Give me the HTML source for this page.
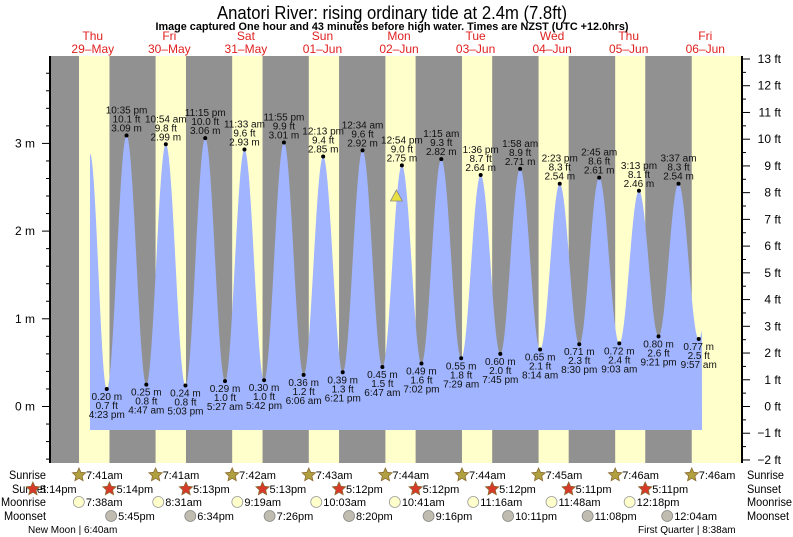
<!DOCTYPE html>
<html><head><meta charset="utf-8"><style>
html,body{margin:0;padding:0;background:#fff;}
svg{display:block;font-family:"Liberation Sans",sans-serif;}
</style></head><body>
<svg id="s" width="793" height="537" xmlns="http://www.w3.org/2000/svg">
<text x="392" y="19" font-size="18" text-anchor="middle" textLength="350" lengthAdjust="spacingAndGlyphs">Anatori River: rising  ordinary tide at 2.4m (7.8ft)</text>
<text x="392" y="30" font-size="11" font-weight="bold" text-anchor="middle" textLength="473" lengthAdjust="spacingAndGlyphs">Image captured One hour and 43 minutes before high water. Times are NZST (UTC +12.0hrs)</text>
<g id="bg"></g><g id="fg"></g>
</svg>
<script>
var NS="http://www.w3.org/2000/svg",bg=document.getElementById('bg'),fg=document.getElementById('fg');
function el(p,t,a,txt){var e=document.createElementNS(NS,t);for(var k in a)e.setAttribute(k,a[k]);if(txt!=null)e.textContent=txt;p.appendChild(e);return e;}
var X0=54.5,PH=3.19;function tx(t){return X0+t*PH;}function my(m){return 406.5-m*87.7;}
function hm(s){var m=s.match(/(\d+):(\d+)\s*(am|pm)/);var h=+m[1]%12;if(m[3]=='pm')h+=12;return h+ +m[2]/60;}
var TOP=56,BOT=463,L=50,R=742;
var sr=["7:41am","7:41am","7:42am","7:43am","7:44am","7:44am","7:45am","7:46am","7:46am"];
var ss=["5:14pm","5:14pm","5:13pm","5:13pm","5:12pm","5:12pm","5:12pm","5:11pm","5:11pm"];
el(bg,'rect',{x:L,y:TOP,width:R-L,height:BOT-TOP,fill:'#919191'});
for(var d=0;d<9;d++){var a=tx(d*24+hm(sr[d])),b=(d<8)?tx(d*24+hm(ss[d+1])):R;el(bg,'rect',{x:a,y:TOP,width:Math.min(b,R)-a,height:BOT-TOP,fill:'#ffffcc'});}
var days=[["Thu","29\u2013May"],["Fri","30\u2013May"],["Sat","31\u2013May"],["Sun","01\u2013Jun"],["Mon","02\u2013Jun"],["Tue","03\u2013Jun"],["Wed","04\u2013Jun"],["Thu","05\u2013Jun"],["Fri","06\u2013Jun"]];
days.forEach(function(v,i){var x=tx(i*24+12);el(fg,'text',{x:x,y:40,'font-size':12,fill:'#e02020','text-anchor':'middle'},v[0]);el(fg,'text',{x:x,y:53,'font-size':12,fill:'#e02020','text-anchor':'middle'},v[1]);});
var ev=[[0,"4:23 pm",0.20,"0.7"],[0,"10:35 pm",3.09,"10.1"],[1,"4:47 am",0.25,"0.8"],[1,"10:54 am",2.99,"9.8"],[1,"5:03 pm",0.24,"0.8"],[1,"11:15 pm",3.06,"10.0"],[2,"5:27 am",0.29,"1.0"],[2,"11:33 am",2.93,"9.6"],[2,"5:42 pm",0.30,"1.0"],[2,"11:55 pm",3.01,"9.9"],[3,"6:06 am",0.36,"1.2"],[3,"12:13 pm",2.85,"9.4"],[3,"6:21 pm",0.39,"1.3"],[4,"12:34 am",2.92,"9.6"],[4,"6:47 am",0.45,"1.5"],[4,"12:54 pm",2.75,"9.0"],[4,"7:02 pm",0.49,"1.6"],[5,"1:15 am",2.82,"9.3"],[5,"7:29 am",0.55,"1.8"],[5,"1:36 pm",2.64,"8.7"],[5,"7:45 pm",0.60,"2.0"],[6,"1:58 am",2.71,"8.9"],[6,"8:14 am",0.65,"2.1"],[6,"2:23 pm",2.54,"8.3"],[6,"8:30 pm",0.71,"2.3"],[7,"2:45 am",2.61,"8.6"],[7,"9:03 am",0.72,"2.4"],[7,"3:13 pm",2.46,"8.1"],[7,"9:21 pm",0.80,"2.6"],[8,"3:37 am",2.54,"8.3"],[8,"9:57 am",0.77,"2.5"]];
var pts=[[11.13,2.88]];ev.forEach(function(e){pts.push([e[0]*24+hm(e[1]),e[2]]);});pts.push([8*24+16.1,2.45]);
var t0=11.13,t1=(702-X0)/PH,path="M"+tx(t0)+",430";
for(var t=t0;t<=t1;t+=0.1){var i=0;while(pts[i+1][0]<t)i++;var p=pts[i],q=pts[i+1],f=(t-p[0])/(q[0]-p[0]);var h=p[1]+(q[1]-p[1])*(1-Math.cos(Math.PI*f))/2;path+=" L"+tx(t).toFixed(2)+","+my(h).toFixed(2);}
path+=" L702,430 Z";el(bg,'path',{d:path,fill:'#a0b4ff'});
ev.forEach(function(e){var x=tx(e[0]*24+hm(e[1])),y=my(e[2]),hi=e[2]>1.5;el(fg,'circle',{cx:x,cy:y,r:2,fill:'#000'});
var ls=hi?[[e[1],-22],[e[3]+" ft",-13],[e[2].toFixed(2)+" m",-4]]:[[e[2].toFixed(2)+" m",11],[e[3]+" ft",20],[e[1],29]];
ls.forEach(function(l){el(fg,'text',{x:x,y:y+l[1],'font-size':10,fill:'#111','text-anchor':'middle'},l[0]);});});
var cx=tx(96+11.18),cy=my(2.4);el(fg,'polygon',{points:(cx-6)+","+(cy+5)+" "+cx+","+(cy-6)+" "+(cx+6)+","+(cy+5),fill:'#e8e040',stroke:'#888','stroke-width':0.8});
el(fg,'line',{x1:L,y1:TOP,x2:L,y2:BOT,stroke:'#000','stroke-width':2});el(fg,'line',{x1:R,y1:TOP,x2:R,y2:BOT,stroke:'#000','stroke-width':2});
for(var k=-3;k<=20;k++){var m=k*0.2,y=my(m);if(y<TOP||y>BOT)continue;var mj=(k%5==0);el(fg,'line',{x1:mj?42:46,y1:y,x2:L,y2:y,stroke:'#000','stroke-width':1});if(mj)el(fg,'text',{x:35,y:y+4,'font-size':12,'text-anchor':'end'},m.toFixed(0)+" m");}
for(var k=-4;k<=26;k++){var ft=k/2,y=my(ft*0.3048);if(y<TOP-1||y>BOT)continue;var mj=(k%2==0);el(fg,'line',{x1:R,y1:y,x2:R+(mj?8:4),y2:y,stroke:'#000','stroke-width':1});if(mj)el(fg,'text',{x:781,y:y+4,'font-size':12,'text-anchor':'end'},(ft<0?"\u2212"+(-ft):ft)+" ft");}
var rows=[["Sunrise",475,37],["Sunset",489,34],["Moonrise",502,45],["Moonset",516,42]];
rows.forEach(function(r){el(fg,'text',{x:46,y:r[1]+4,'font-size':12,'text-anchor':'end',textLength:r[2],lengthAdjust:'spacingAndGlyphs'},r[0]);el(fg,'text',{x:747,y:r[1]+4,'font-size':12,textLength:r[2],lengthAdjust:'spacingAndGlyphs'},r[0]);});
function star(x,y,c){var s="";for(var i=0;i<10;i++){var a=-Math.PI/2+i*Math.PI/5,rr=i%2?3.3:7;s+=(x+rr*Math.cos(a)).toFixed(1)+","+(y+rr*Math.sin(a)).toFixed(1)+" ";}el(fg,'polygon',{points:s,fill:c,stroke:'#8a6a30','stroke-width':0.8});}
function lab(x,y,t){el(fg,'text',{x:x+7,y:y+4,'font-size':11},t);}
sr.forEach(function(s,d){var x=tx(d*24+hm(s));star(x,475,'#b0a040');lab(x,475,s);});
ss.forEach(function(s,d){var x=tx((d-1)*24+hm(s));star(x,489,'#d83a2a');lab(x,489,s);});
["7:38am","8:31am","9:19am","10:03am","10:41am","11:16am","11:48am","12:18pm"].forEach(function(s,d){var x=tx(d*24+hm(s));el(fg,'circle',{cx:x,cy:502,r:5.5,fill:'#ffffcc',stroke:'#999','stroke-width':0.8});lab(x,502,s);});
["5:45pm","6:34pm","7:26pm","8:20pm","9:16pm","10:11pm","11:08pm","12:04am"].forEach(function(s,d){var x=tx((d==7?8:d)*24+hm(s));el(fg,'circle',{cx:x,cy:516,r:5.5,fill:'#c0bcb0',stroke:'#888','stroke-width':0.8});lab(x,516,s);});
el(fg,'text',{x:28,y:533,'font-size':10},"New Moon | 6:40am");
el(fg,'text',{x:638,y:533,'font-size':10},"First Quarter | 8:38am");
</script>
</body></html>
